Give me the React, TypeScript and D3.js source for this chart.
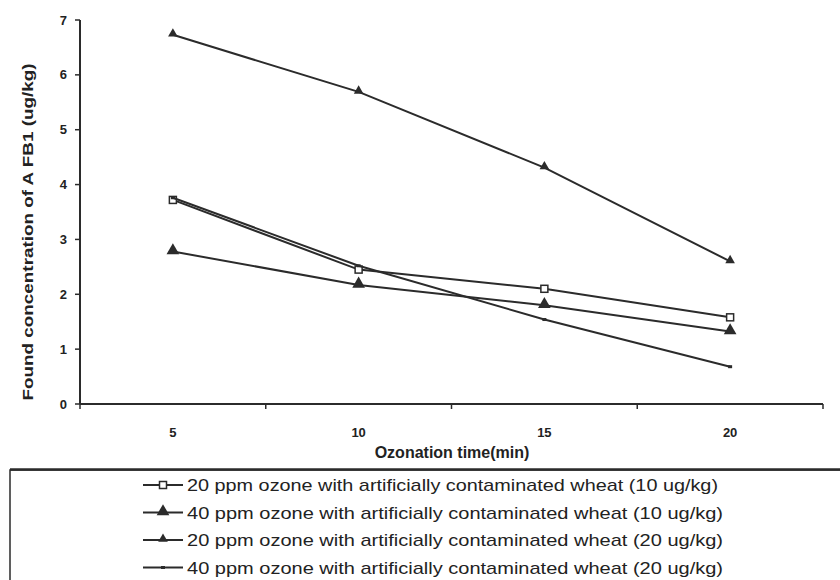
import * as d3 from "d3"

const categories = ["5", "10", "15", "20"]
const yTicks = [0, 1, 2, 3, 4, 5, 6, 7]

const s20ppm10 = [3.72, 2.45, 2.1, 1.58]
const s40ppm10 = [2.78, 2.17, 1.8, 1.32]
const s20ppm20 = [6.73, 5.69, 4.31, 2.6]
const s40ppm20 = [3.76, 2.52, 1.54, 0.68]

const seriesNames = [
  "20 ppm ozone  with artificially contaminated wheat (10 ug/kg)",
  "40 ppm ozone  with  artificially contaminated wheat (10 ug/kg)",
  "20 ppm ozone  with  artificially contaminated wheat (20 ug/kg)",
  "40 ppm ozone  with  artificially contaminated wheat (20 ug/kg)",
]

const series = [
  { name: seriesNames[0], values: s20ppm10, marker: "square" },
  { name: seriesNames[1], values: s40ppm10, marker: "bigTriangle" },
  { name: seriesNames[2], values: s20ppm20, marker: "triangle" },
  { name: seriesNames[3], values: s40ppm20, marker: "dash" },
]

const INK = "#2b2b2b"

const Marker = ({ type, x, y }: { type: string; x: number; y: number }) => {
  if (type === "square")
    return <rect x={x - 3.5} y={y - 3.5} width={7} height={7} fill="#fff" stroke={INK} strokeWidth={1.5} />
  if (type === "bigTriangle") {
    const p = d3.symbol(d3.symbolTriangle, 70)()
    return <path d={p} transform={`translate(${x},${y - 1})`} fill={INK} />
  }
  if (type === "triangle") {
    const p = d3.symbol(d3.symbolTriangle, 40)()
    return <path d={p} transform={`translate(${x},${y - 1})`} fill={INK} />
  }
  return <rect x={x - 2} y={y - 1.5} width={4} height={3} fill={INK} />
}

export default function App() {
  const x = d3.scaleBand().domain(categories).range([80, 823]).paddingInner(0)
  const y = d3.scaleLinear().domain([0, 7]).range([404, 20])
  const cx = (c: string) => (x(c) || 0) + x.bandwidth() / 2
  const line = d3
    .line<number>()
    .x((_, i) => cx(categories[i]))
    .y((d) => y(d))
  const boundaries = [...categories.map((c) => x(c) || 0), x.range()[1]]

  return (
    <svg
      width={840}
      height={580}
      style={{ position: "absolute", left: 0, top: 0, background: "#fff" }}
      fontFamily="'Liberation Sans', Arial, sans-serif"
    >
      {/* axes */}
      <line x1={80} x2={80} y1={y(7)} y2={y(0)} stroke={INK} strokeWidth={2} />
      <line x1={80} x2={x.range()[1]} y1={y(0)} y2={y(0)} stroke={INK} strokeWidth={2} />
      {yTicks.map((t) => (
        <g key={t}>
          <line x1={75} x2={80} y1={y(t)} y2={y(t)} stroke={INK} strokeWidth={1.5} />
          <text x={67} y={y(t) + 4.5} textAnchor="end" fontSize={13} fontWeight="bold" fill="#222">
            {t}
          </text>
        </g>
      ))}
      {boundaries.map((b, i) => (
        <line key={i} x1={b} x2={b} y1={y(0)} y2={y(0) + 5} stroke={INK} strokeWidth={1.5} />
      ))}
      {categories.map((c) => (
        <text key={c} x={cx(c)} y={437} textAnchor="middle" fontSize={13} fontWeight="bold" fill="#222">
          {c}
        </text>
      ))}
      <text x={452} y={458} textAnchor="middle" fontSize={16} fontWeight="bold" fill="#222">
        Ozonation time(min)
      </text>
      <text
        transform="translate(33,232) rotate(-90)"
        textAnchor="middle"
        fontSize={15}
        fontWeight="bold"
        fill="#222"
        textLength={337}
        lengthAdjust="spacingAndGlyphs"
      >
        Found concentration of A FB1 (ug/kg)
      </text>

      {/* series */}
      {series.map((s) => (
        <g key={s.name}>
          <path d={line(s.values) || ""} fill="none" stroke={INK} strokeWidth={2} />
          {s.values.map((v, i) => (
            <Marker key={i} type={s.marker} x={cx(categories[i])} y={y(v)} />
          ))}
        </g>
      ))}

      {/* legend */}
      <rect x={10} y={470} width={840} height={130} fill="#fff" stroke={INK} strokeWidth={1.5} />
      <line x1={10} x2={840} y1={469.5} y2={469.5} stroke={INK} strokeWidth={2.5} />
      {series.map((s, i) => {
        const ly = 485 + i * 27.5
        return (
          <g key={s.name}>
            <line x1={143} x2={183} y1={ly} y2={ly} stroke={INK} strokeWidth={2} />
            <Marker type={s.marker} x={163} y={ly} />
            <text
              x={187}
              y={ly + 6}
              fontSize={17}
              fill="#222"
              textLength={i === 0 ? 531 : 536}
              lengthAdjust="spacingAndGlyphs"
            >
              {s.name}
            </text>
          </g>
        )
      })}
    </svg>
  )
}
